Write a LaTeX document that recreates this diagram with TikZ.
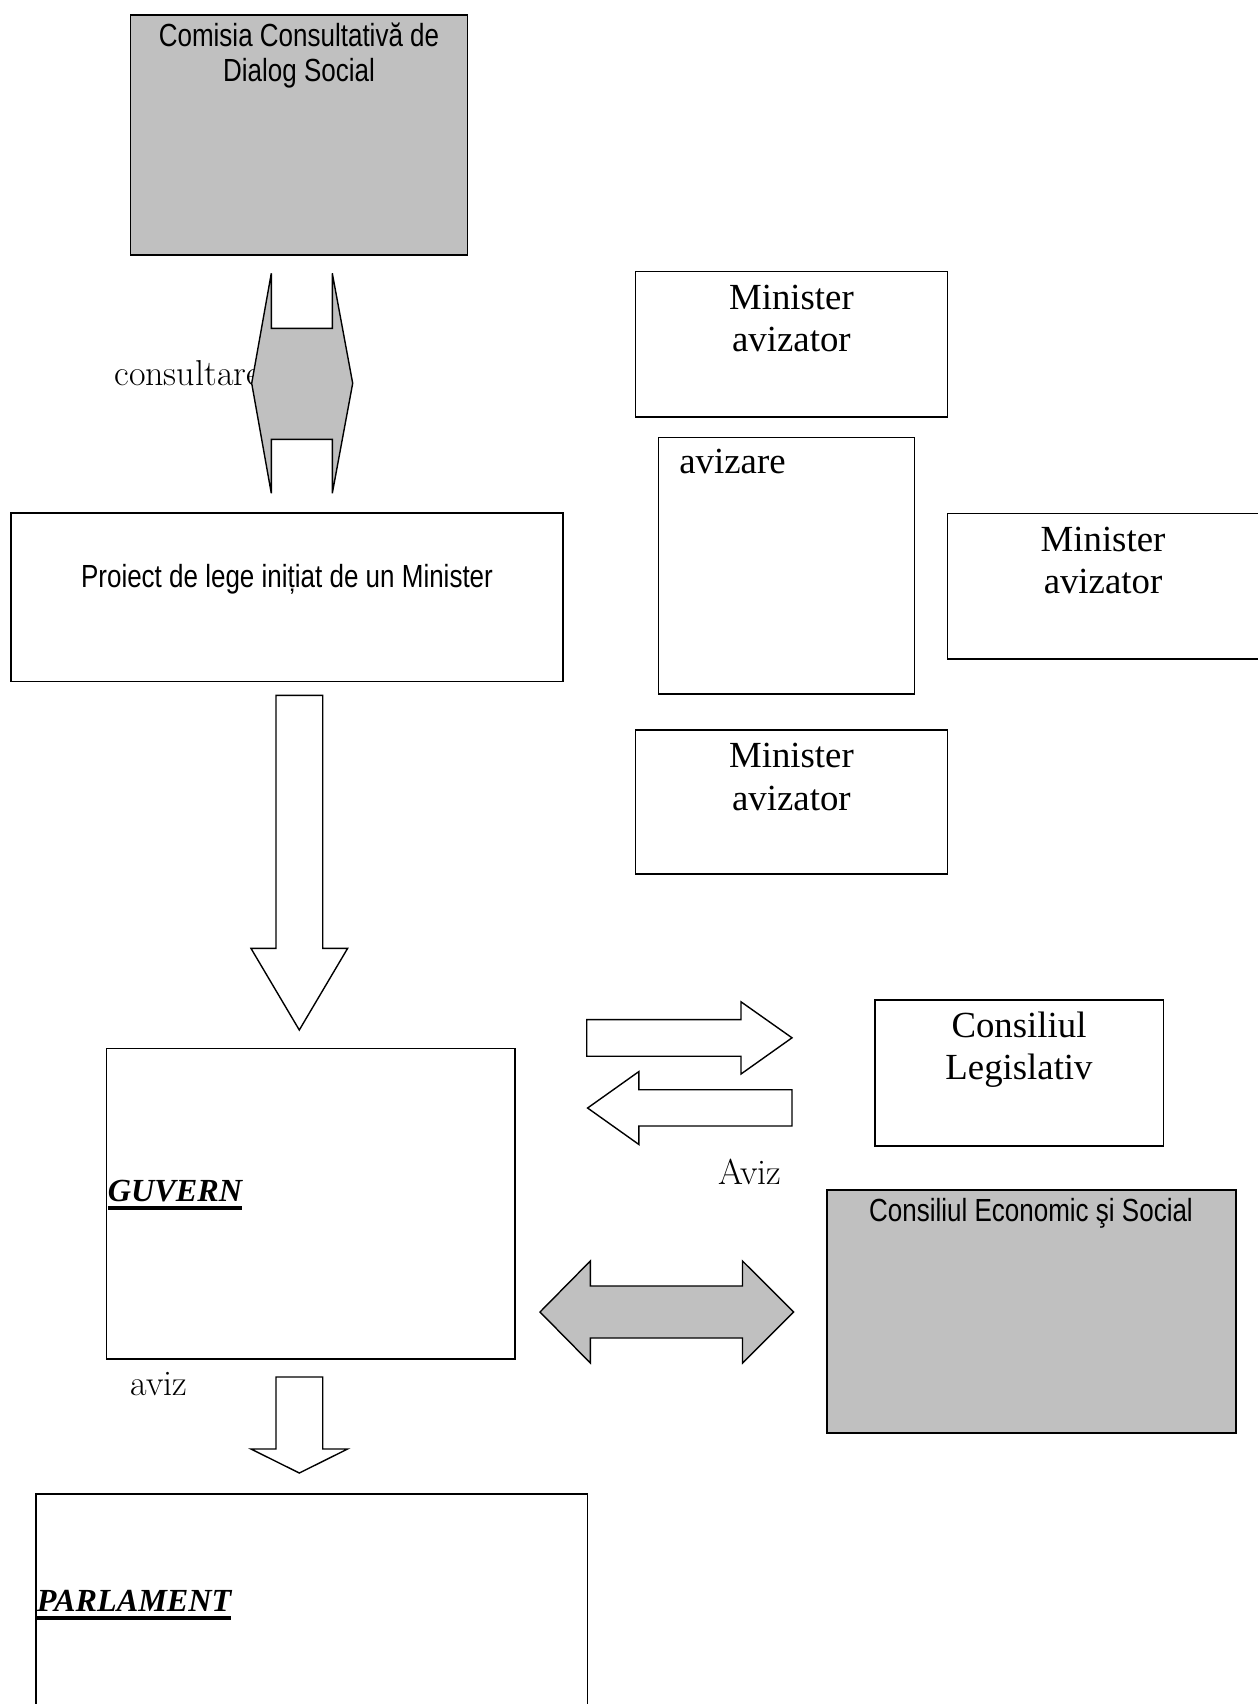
\documentclass[tikz,border=0pt]{standalone}
\usepackage{fontspec}
\usetikzlibrary{fit}

\newfontfamily\narrowsans[FakeStretch=0.8125]{Liberation Sans}
\newfontfamily\timesserif{Liberation Serif}
\definecolor{panelgray}{HTML}{C0C0C0}

% two centred lines, aligned on the baseline of the first one
\newcommand\twoline[2]{\begin{tabular}[t]{@{}c@{}}#1\\#2\end{tabular}}
% heavy underline below a word
\newcommand\ulword[1]{\setbox0\hbox{#1}\rlap{\rule[-3.9pt]{\wd0}{2pt}}\box0}

\begin{document}
\begin{tikzpicture}[
  x=0.5pt, y=-0.5pt,
  box/.style={draw, line width=0.7pt, inner sep=0pt, outer sep=0pt},
  graybox/.style={box, fill=panelgray},
  blockarrow/.style={draw, line width=0.7pt, line join=miter, fill=white},
  grayarrow/.style={blockarrow, fill=panelgray},
  sanslabel/.style={font=\narrowsans\fontsize{16pt}{17.5pt}\selectfont, inner sep=0pt},
  seriflabel/.style={font=\timesserif\fontsize{18.4pt}{21.2pt}\selectfont, inner sep=0pt},
  plainlabel/.style={font=\rmfamily\fontsize{18pt}{21pt}\selectfont, inner sep=0pt},
  titlelabel/.style={font=\timesserif\bfseries\itshape\fontsize{16.1pt}{19pt}\selectfont, inner sep=0pt}
]
\useasboundingbox (0,0) rectangle (1258,1704);
\clip (0,0) rectangle (1258,1704);

% --- consultation commission -------------------------------------------
\node[graybox, fit={(130.5,15) (467.5,255)}] (ccds) {};
\node[sanslabel, anchor=base] (ccdstext) at (299,46.7)
  {\twoline{Comisia Consultativă de}{Dialog Social}};

\node[plainlabel, anchor=base west] (consult) at (114,385) {consultare};
\draw[grayarrow] (271.3,273.3) -- (271.3,328.3) -- (332.3,328.3) -- (332.3,273.3)
  -- (352.7,383.3) -- (332.3,493.3) -- (332.3,439.3) -- (271.3,439.3)
  -- (271.3,493.3) -- (251.7,383.3) -- cycle;

% --- draft law ------------------------------------------------------------
\node[box, fit={(10.9,512.8) (562.8,681.2)}] (proiect) {};
\node[sanslabel, anchor=base] (proiecttext) at (287,587.3)
  {Proiect de lege inițiat de un Minister};

\draw[blockarrow] (276,695.3) -- (322.7,695.3) -- (322.7,948.4) -- (347.6,948.4)
  -- (299.3,1030) -- (251,948.4) -- (276,948.4) -- cycle;

% --- endorsing ministries ----------------------------------------------
\node[box, fit={(635.5,271.6) (947.3,417)}] (min1) {};
\node[seriflabel, anchor=base] (min1text) at (791.4,309.3) {\twoline{Minister}{avizator}};

\node[box, fit={(658.6,437.5) (914.5,694)}] (aviz) {};
\node[seriflabel, anchor=base west] (aviztext) at (679,473.5) {avizare};

\node[box, fit={(947.3,513.5) (1262,659)}] (min2) {};
\node[seriflabel, anchor=base] (min2text) at (1103,551.1) {\twoline{Minister}{avizator}};

\node[box, fit={(635.5,730) (947.3,874)}] (min3) {};
\node[seriflabel, anchor=base] (min3text) at (791.4,767.6) {\twoline{Minister}{avizator}};

% --- government --------------------------------------------------------------
\node[box, fit={(106.5,1048.4) (515,1359)}] (guvern) {};
\node[titlelabel, anchor=base west] (guverntext) at (107.5,1201.7) {\ulword{GUVERN}};

\node[plainlabel, anchor=base west] (avizlow) at (130,1395) {aviz};
\draw[blockarrow] (276,1377) -- (322.7,1377) -- (322.7,1449) -- (347.6,1449)
  -- (299.3,1473) -- (251,1449) -- (276,1449) -- cycle;

% --- parliament --------------------------------------------------------------
\node[box, fit={(35.9,1494) (587.7,1712)}] (parlament) {};
\node[titlelabel, anchor=base west] (parltext) at (36.5,1611.7) {\ulword{PARLAMENT}};

% --- legislative council -----------------------------------------------------
\node[box, fit={(874.8,1000) (1163.7,1146)}] (cl) {};
\node[seriflabel, anchor=base] (cltext) at (1019,1037) {\twoline{Consiliul}{Legislativ}};

\draw[blockarrow] (586.7,1019.6) -- (741,1019.6) -- (741,1001.8) -- (792,1037.8)
  -- (741,1074) -- (741,1056.2) -- (586.7,1056.2) -- cycle;
\draw[blockarrow] (792,1089.7) -- (638.8,1089.7) -- (638.8,1071.6) -- (587.6,1108)
  -- (638.8,1144.4) -- (638.8,1126) -- (792,1126) -- cycle;
\node[plainlabel, anchor=base west] (avizcl) at (718.5,1184.7) {Aviz};

% --- economic and social council ---------------------------------------------
\node[graybox, fit={(827,1190) (1236,1433)}] (ces) {};
\node[sanslabel, anchor=base] (cestext) at (1031,1221.7) {Consiliul Economic şi Social};

\draw[grayarrow] (540,1312) -- (590.3,1261) -- (590.3,1286) -- (742.5,1286)
  -- (742.5,1261) -- (793.7,1312) -- (742.5,1363) -- (742.5,1338)
  -- (590.3,1338) -- (590.3,1363) -- cycle;
\end{tikzpicture}
\end{document}
